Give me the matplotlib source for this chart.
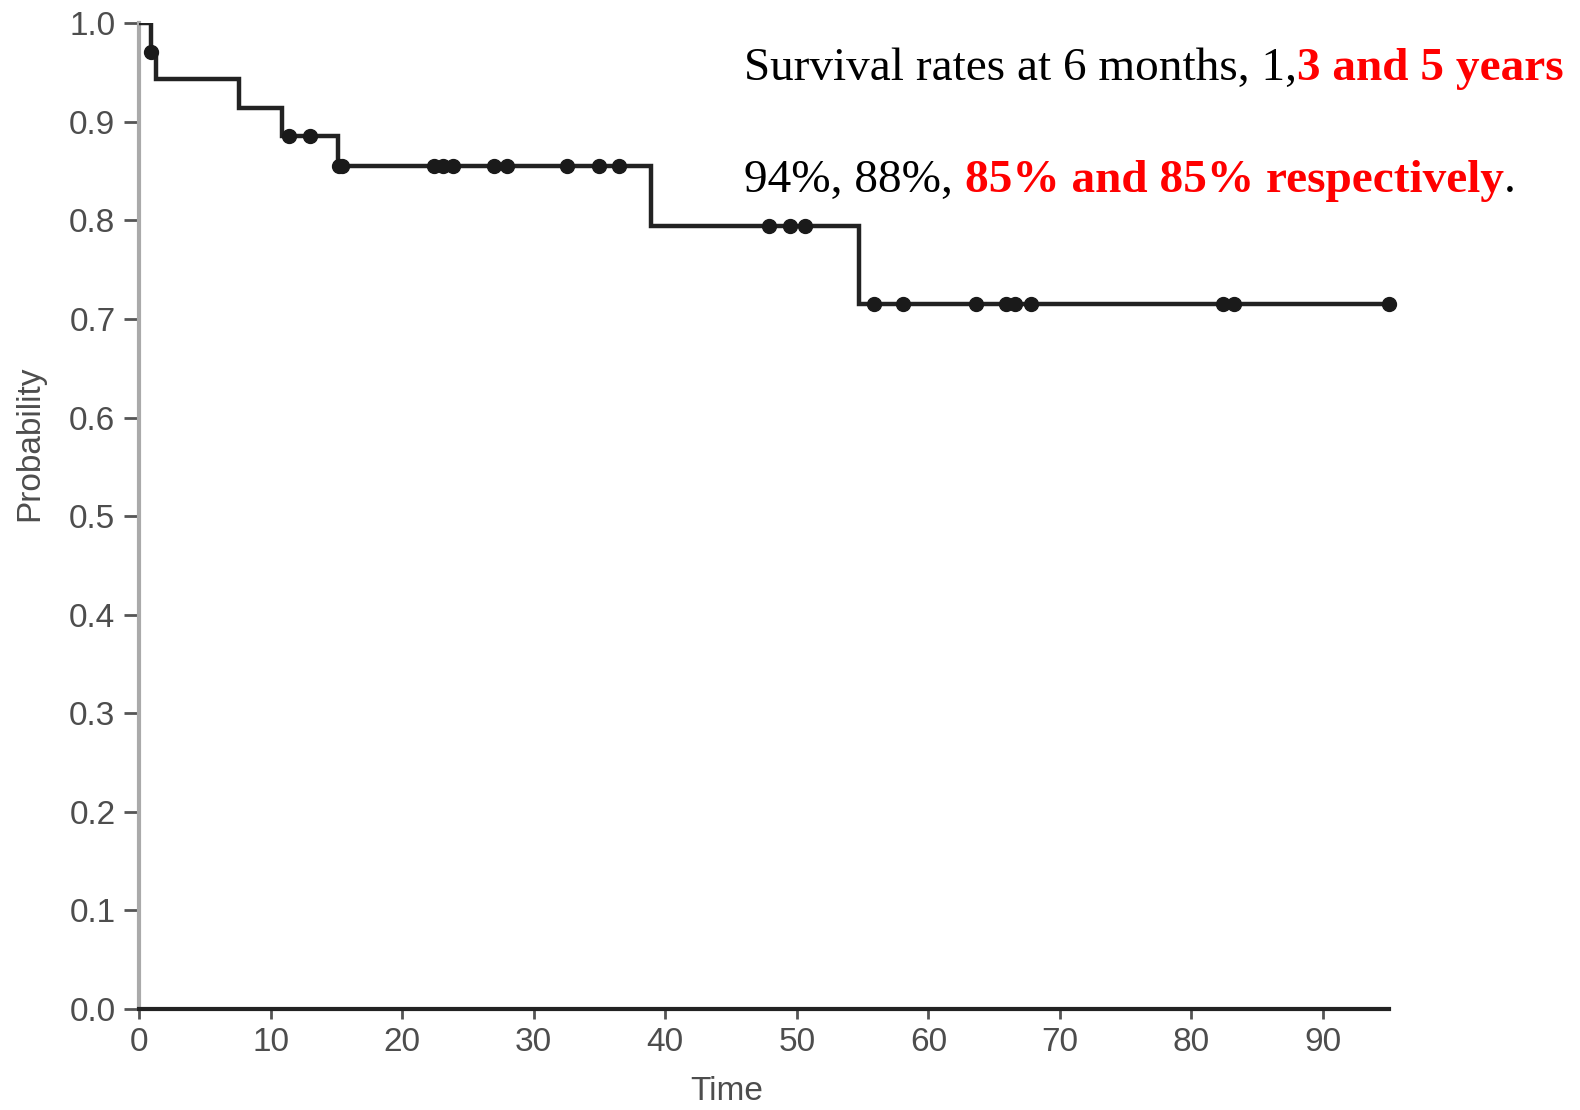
import matplotlib

matplotlib.use("Agg")
import matplotlib.pyplot as plt
import numpy as np

# Kaplan-Meier step curve (time in months, survival probability)
step_times = [0.0, 0.9, 1.3, 7.6, 10.9, 15.1, 38.9, 54.7, 95.0]
step_surv = [1.0, 0.971, 0.943, 0.914, 0.886, 0.855, 0.794, 0.715, 0.715]

# censored observations (time in months)
censor_times = [0.9, 11.4, 13.0, 15.2, 15.4, 22.4, 23.1, 23.9, 27.0, 28.0,
                32.5, 35.0, 36.5, 47.9, 49.5, 50.6, 55.9, 58.1, 63.6, 65.9,
                66.6, 67.8, 82.4, 83.2, 95.0]

x_ticks = [0, 10, 20, 30, 40, 50, 60, 70, 80, 90]
y_ticks = [0.0, 0.1, 0.2, 0.3, 0.4, 0.5, 0.6, 0.7, 0.8, 0.9, 1.0]

# annotation pieces: (text, red/bold?)
line1 = [("Survival rates at 6 months, 1,", False), ("3 and 5 years", True)]
line2 = [("94%, 88%,", False), (" ", False), ("85% and 85% respectively", True), (".", False)]

fig = plt.figure(figsize=(15.8, 11.1), dpi=100)
ax = fig.add_axes([0.088, 0.091, 0.791, 0.888])

ax.step(step_times, step_surv, where="post", color="#222222", lw=3.2, zorder=3,
        solid_joinstyle="miter")
idx = np.searchsorted(step_times, censor_times, side="right") - 1
censor_surv = np.asarray(step_surv)[idx]
ax.plot(censor_times, censor_surv, "o", color="#1a1a1a", ms=10, zorder=4, clip_on=False)

ax.set_xlim(0, 95)
ax.set_ylim(0, 1)
ax.set_xticks(x_ticks)
ax.set_yticks(y_ticks)
ax.set_yticklabels([f"{v:.1f}" for v in y_ticks])
ax.tick_params(axis="both", labelsize=24, labelcolor="#4d4d4d", direction="out")
ax.tick_params(axis="y", length=11, width=2, color="#555555", pad=6)
ax.tick_params(axis="x", length=7, width=2, color="#555555", pad=6)
for lab in ax.get_xticklabels() + ax.get_yticklabels():
    lab.set_family("Liberation Sans")

ax.spines["top"].set_visible(False)
ax.spines["right"].set_visible(False)
ax.spines["left"].set_color("#aaaaaa")
ax.spines["left"].set_linewidth(3)
ax.spines["bottom"].set_color("#222222")
ax.spines["bottom"].set_linewidth(3)

ax.set_xlabel("Time", fontsize=24, color="#4d4d4d", family="Liberation Sans")
ax.set_ylabel("Probability", fontsize=24, color="#4d4d4d", family="Liberation Sans")
ax.xaxis.set_label_coords(0.470, -0.068)
ax.yaxis.set_label_coords(-0.075, 0.574)

# mixed-colour annotation, laid out piece by piece
fig.canvas.draw()
renderer = fig.canvas.get_renderer()
fs = 34


def put_line(pieces, x0, y0):
    x = x0
    for s, hot in pieces:
        t = fig.text(x, y0, s, fontsize=fs, family="Liberation Serif", va="baseline",
                     color="#ff0000" if hot else "black",
                     weight="bold" if hot else "normal")
        if s == " ":
            a = fig.text(0, 0, "x x", fontsize=fs, family="Liberation Serif")
            b = fig.text(0, 0, "xx", fontsize=fs, family="Liberation Serif")
            w = a.get_window_extent(renderer).width - b.get_window_extent(renderer).width
            a.remove()
            b.remove()
            t.remove()
        else:
            w = t.get_window_extent(renderer).width
        x += w / fig.bbox.width


put_line(line1, 0.471, 0.928)
put_line(line2, 0.471, 0.827)

fig.savefig("out.png", dpi=100, facecolor="white")
plt.close(fig)
